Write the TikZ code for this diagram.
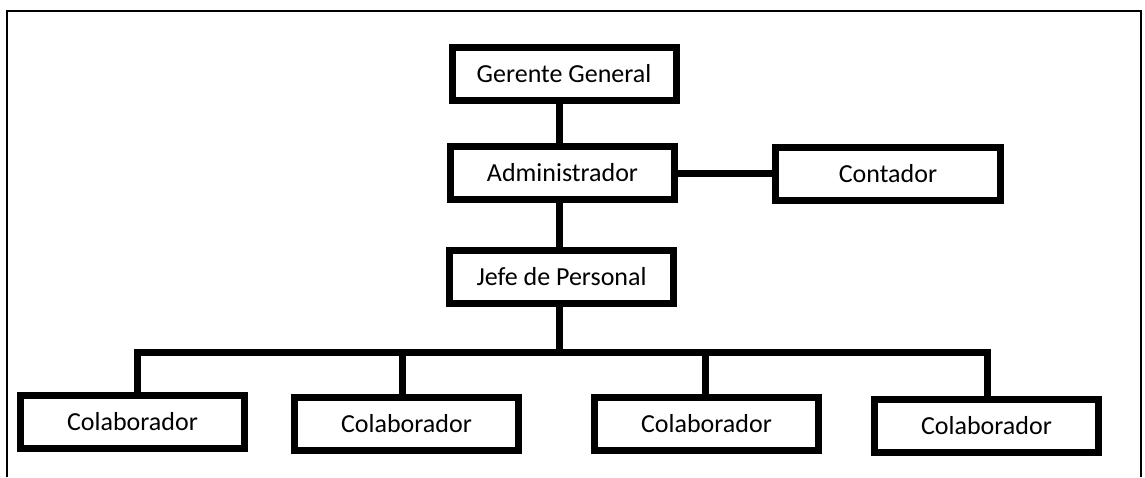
\documentclass[tikz,border=0pt]{standalone}
\usepackage{fontspec}
\setmainfont{Carlito}
\begin{document}
\begin{tikzpicture}[x=1pt,y=-1pt,
  orgbox/.style={draw=black, line width=7pt, fill=white, inner sep=0pt,
    minimum width=224pt, minimum height=53pt,
    font=\fontsize{26}{31}\selectfont},
  link/.style={draw=black, line width=7pt},
  frameline/.style={draw=black, line width=2pt}]
\useasboundingbox (0,0) rectangle (1145,477);
% frame
\draw[frameline] (7,477) -- (7,11) -- (1141,11) -- (1141,477);
% nodes
\node[orgbox] (gg)   at (564,74)    {Gerente General};
\node[orgbox] (adm)  at (562.5,173) {Administrador};
\node[orgbox] (jefe) at (561.5,277) {Jefe de Personal};
\node[orgbox, minimum width=225pt] (cont) at (888,174) {Contador};
\node[orgbox] (c1) at (132.5,422) {Colaborador};
\node[orgbox] (c2) at (406.5,423.5) {Colaborador};
\node[orgbox] (c3) at (706.5,423.5) {Colaborador};
\node[orgbox] (c4) at (986.5,426) {Colaborador};
% helper coordinates
\coordinate (sp) at (559,0);
\coordinate (bus) at (559,352.5);
\coordinate (d1) at (137,352.5);
\coordinate (d2) at (402,352.5);
\coordinate (d3) at (705,352.5);
\coordinate (d4) at (987.5,352.5);
% connectors
\draw[link] (gg.south -| sp) -- (adm.north -| sp);
\draw[link] (adm.south -| sp) -- (jefe.north -| sp);
\draw[link] (adm.east) -- (adm.east -| cont.west);
\draw[link] (jefe.south -| sp) -- (bus);
\draw[link] (c1.north -| d1) -- (d1) -- (d4) -- (c4.north -| d4);
\draw[link] (d2) -- (c2.north -| d2);
\draw[link] (d3) -- (c3.north -| d3);
\end{tikzpicture}
\end{document}
